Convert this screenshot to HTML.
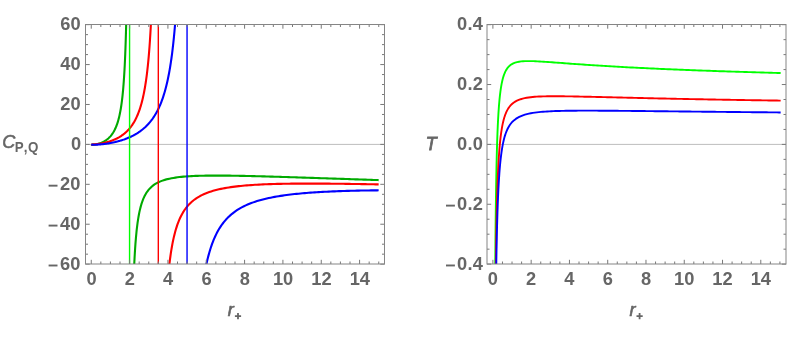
<!DOCTYPE html><html><head><meta charset="utf-8"><title>plot</title><style>html,body{margin:0;padding:0;background:#fff}svg{display:block;will-change:transform}text{font-family:"Liberation Sans",sans-serif;font-weight:bold;fill:#666666}</style></head><body>
<svg width="800" height="338" viewBox="0 0 800 338">
<rect width="800" height="338" fill="#fff"/>
<defs><clipPath id="cl"><rect x="85.5" y="24.5" width="299" height="239.5"/></clipPath><clipPath id="cr"><rect x="487" y="24.5" width="299" height="239.5"/></clipPath></defs>
<path d="M85.5 144.4 H384.5 M487 144.4 H786" stroke="#bdbdbd" stroke-width="1" fill="none"/>
<g clip-path="url(#cl)" fill="none" stroke-linejoin="round">
<path d="M91.25 144.35 L91.49 144.55 L91.73 144.6 L91.97 144.63 L92.21 144.65 L92.45 144.66 L92.69 144.66 L92.93 144.65 L93.17 144.65 L93.4 144.63 L93.64 144.62 L93.88 144.6 L94.12 144.58 L94.36 144.55 L94.6 144.52 L94.84 144.49 L95.08 144.46 L95.32 144.42 L95.56 144.39 L95.8 144.35 L96.04 144.3 L96.28 144.26 L96.52 144.21 L96.76 144.16 L97 144.11 L97.24 144.05 L97.48 144 L97.71 143.94 L97.95 143.88 L98.19 143.81 L98.43 143.75 L98.67 143.68 L98.91 143.61 L99.15 143.54 L99.39 143.46 L99.63 143.38 L99.87 143.3 L100.11 143.22 L100.35 143.13 L100.59 143.05 L100.83 142.96 L101.07 142.86 L101.31 142.77 L101.55 142.67 L101.79 142.57 L102.02 142.46 L102.26 142.35 L102.5 142.24 L102.74 142.13 L102.98 142.02 L103.22 141.9 L103.46 141.77 L103.7 141.65 L103.94 141.52 L104.18 141.38 L104.42 141.25 L104.66 141.11 L104.9 140.96 L105.14 140.82 L105.38 140.66 L105.62 140.51 L105.86 140.35 L106.1 140.18 L106.33 140.02 L106.57 139.84 L106.81 139.66 L107.05 139.48 L107.29 139.29 L107.53 139.1 L107.77 138.9 L108.01 138.7 L108.25 138.49 L108.49 138.28 L108.73 138.06 L108.97 137.83 L109.21 137.6 L109.45 137.36 L109.69 137.11 L109.93 136.86 L110.17 136.6 L110.41 136.33 L110.64 136.05 L110.88 135.77 L111.12 135.48 L111.36 135.17 L111.6 134.86 L111.84 134.54 L112.08 134.21 L112.32 133.87 L112.56 133.52 L112.8 133.16 L113.04 132.79 L113.28 132.4 L113.52 132.01 L113.76 131.59 L114 131.17 L114.24 130.73 L114.48 130.28 L114.72 129.81 L114.95 129.32 L115.19 128.81 L115.43 128.29 L115.67 127.75 L115.91 127.19 L116.15 126.6 L116.39 126 L116.63 125.37 L116.87 124.71 L117.11 124.03 L117.35 123.32 L117.59 122.59 L117.83 121.82 L118.07 121.01 L118.31 120.17 L118.55 119.3 L118.79 118.38 L119.03 117.42 L119.26 116.41 L119.5 115.36 L119.74 114.25 L119.98 113.08 L120.22 111.85 L120.46 110.56 L120.7 109.2 L120.94 107.75 L121.18 106.23 L121.42 104.61 L121.66 102.89 L121.9 101.07 L122.14 99.12 L122.38 97.04 L122.62 94.82 L122.86 92.43 L123.1 89.87 L123.33 87.11 L123.57 84.13 L123.81 80.89 L124.05 77.37 L124.29 73.53 L124.53 69.33 L124.77 64.69 L125.01 59.57 L125.25 53.88 L125.49 47.52 L125.73 40.36 L125.97 32.25 L126.21 22.97 L126.45 12.27 L126.69 -0.21 L126.77 -5.23" stroke="#00aa00" stroke-width="2.1"/>
<path d="M133.2 293.14 L133.26 290.97 L133.33 288.86 L133.39 286.83 L133.48 283.89 L133.57 281.1 L133.67 278.43 L133.76 275.88 L133.85 273.45 L133.95 271.12 L134.04 268.88 L134.14 266.74 L134.23 264.68 L134.35 262.07 L134.48 259.58 L134.6 257.23 L134.73 254.98 L134.85 252.84 L134.98 250.8 L135.13 248.39 L135.29 246.1 L135.44 243.93 L135.6 241.88 L135.79 239.56 L135.97 237.37 L136.16 235.3 L136.38 233.04 L136.59 230.92 L136.81 228.93 L137.06 226.79 L137.31 224.8 L137.59 222.7 L137.9 220.54 L138.21 218.54 L138.56 216.5 L138.93 214.45 L139.33 212.41 L139.77 210.39 L140.24 208.42 L140.77 206.39 L141.33 204.44 L141.95 202.49 L142.64 200.56 L143.38 198.68 L144.22 196.81 L145.16 194.97 L146.18 193.2 L147.31 191.52 L148.55 189.89 L149.89 188.38 L151.35 186.96 L152.91 185.66 L154.56 184.47 L156.27 183.41 L158.05 182.46 L159.88 181.62 L161.75 180.87 L163.65 180.21 L165.58 179.63 L167.54 179.11 L169.51 178.66 L171.47 178.26 L173.46 177.91 L175.45 177.59 L177.45 177.32 L179.44 177.07 L181.43 176.86 L183.42 176.67 L185.45 176.5 L187.47 176.35 L189.5 176.22 L191.52 176.11 L193.54 176.01 L195.57 175.92 L197.59 175.85 L199.62 175.78 L201.64 175.73 L203.66 175.69 L205.69 175.65 L207.71 175.62 L209.73 175.6 L211.76 175.59 L213.78 175.58 L215.81 175.58 L217.83 175.58 L219.85 175.58 L221.88 175.6 L223.9 175.61 L225.93 175.63 L227.95 175.65 L229.97 175.67 L232 175.7 L234.02 175.73 L236.04 175.76 L238.07 175.8 L240.09 175.84 L242.12 175.88 L244.14 175.92 L246.16 175.96 L248.19 176.01 L250.21 176.05 L252.24 176.1 L254.26 176.15 L256.28 176.2 L258.31 176.25 L260.33 176.3 L262.36 176.36 L264.38 176.41 L266.4 176.47 L268.43 176.53 L270.45 176.58 L272.47 176.64 L274.5 176.7 L276.52 176.76 L278.55 176.82 L280.57 176.88 L282.59 176.94 L284.62 177 L286.64 177.07 L288.67 177.13 L290.69 177.19 L292.71 177.26 L294.74 177.32 L296.76 177.39 L298.78 177.45 L300.81 177.52 L302.83 177.58 L304.86 177.65 L306.88 177.71 L308.9 177.78 L310.93 177.84 L312.95 177.91 L314.98 177.98 L317 178.04 L319.02 178.11 L321.05 178.18 L323.07 178.24 L325.1 178.31 L327.12 178.38 L329.14 178.45 L331.17 178.51 L333.19 178.58 L335.21 178.65 L337.24 178.72 L339.26 178.78 L341.29 178.85 L343.31 178.92 L345.33 178.99 L347.36 179.06 L349.38 179.12 L351.41 179.19 L353.43 179.26 L355.45 179.33 L357.48 179.39 L359.5 179.46 L361.52 179.53 L363.55 179.6 L365.57 179.67 L367.6 179.73 L369.62 179.8 L371.64 179.87 L373.67 179.94 L375.69 180 L377.72 180.07 L378.65 180.1" stroke="#00aa00" stroke-width="2.1"/>
<path d="M91.25 144.35 L91.67 144.43 L92.09 144.45 L92.51 144.45 L92.93 144.44 L93.35 144.42 L93.76 144.4 L94.18 144.38 L94.6 144.35 L95.02 144.32 L95.44 144.28 L95.86 144.24 L96.28 144.2 L96.7 144.16 L97.12 144.11 L97.54 144.06 L97.96 144.01 L98.37 143.95 L98.79 143.89 L99.21 143.83 L99.63 143.77 L100.05 143.7 L100.47 143.63 L100.89 143.56 L101.31 143.48 L101.73 143.41 L102.15 143.33 L102.57 143.24 L102.99 143.16 L103.4 143.07 L103.82 142.98 L104.24 142.88 L104.66 142.79 L105.08 142.69 L105.5 142.59 L105.92 142.48 L106.34 142.37 L106.76 142.26 L107.18 142.14 L107.6 142.03 L108.01 141.91 L108.43 141.78 L108.85 141.65 L109.27 141.52 L109.69 141.39 L110.11 141.25 L110.53 141.1 L110.95 140.96 L111.37 140.81 L111.79 140.66 L112.21 140.5 L112.62 140.34 L113.04 140.17 L113.46 140 L113.88 139.82 L114.3 139.64 L114.72 139.46 L115.14 139.27 L115.56 139.08 L115.98 138.88 L116.4 138.68 L116.82 138.47 L117.23 138.25 L117.65 138.03 L118.07 137.81 L118.49 137.57 L118.91 137.34 L119.33 137.09 L119.75 136.84 L120.17 136.58 L120.59 136.32 L121.01 136.05 L121.43 135.77 L121.85 135.48 L122.26 135.19 L122.68 134.88 L123.1 134.57 L123.52 134.25 L123.94 133.92 L124.36 133.59 L124.78 133.24 L125.2 132.88 L125.62 132.51 L126.04 132.13 L126.46 131.74 L126.87 131.34 L127.29 130.93 L127.71 130.5 L128.13 130.06 L128.55 129.61 L128.97 129.14 L129.39 128.65 L129.81 128.16 L130.23 127.64 L130.65 127.11 L131.07 126.56 L131.48 125.99 L131.9 125.41 L132.32 124.8 L132.74 124.17 L133.16 123.52 L133.58 122.84 L134 122.14 L134.42 121.42 L134.84 120.66 L135.26 119.88 L135.68 119.07 L136.09 118.22 L136.51 117.34 L136.93 116.43 L137.35 115.48 L137.77 114.48 L138.19 113.44 L138.61 112.36 L139.03 111.23 L139.45 110.05 L139.87 108.81 L140.29 107.51 L140.7 106.15 L141.12 104.72 L141.54 103.21 L141.96 101.63 L142.38 99.96 L142.8 98.2 L143.22 96.34 L143.64 94.37 L144.06 92.28 L144.48 90.06 L144.9 87.71 L145.32 85.2 L145.73 82.51 L146.15 79.65 L146.57 76.57 L146.99 73.26 L147.41 69.7 L147.83 65.85 L148.25 61.67 L148.67 57.13 L149.09 52.17 L149.51 46.74 L149.93 40.76 L150.34 34.15 L150.76 26.79 L151.18 18.57 L151.6 9.32 L152.02 -1.17 L152.17 -5.29" stroke="#ff0000" stroke-width="2.1"/>
<path d="M166.76 293.79 L166.9 291.79 L167.06 289.47 L167.23 287.24 L167.39 285.09 L167.56 283.02 L167.72 281.02 L167.91 278.77 L168.11 276.62 L168.3 274.54 L168.49 272.55 L168.71 270.36 L168.93 268.27 L169.15 266.26 L169.4 264.09 L169.65 262.02 L169.92 259.83 L170.2 257.74 L170.48 255.74 L170.78 253.65 L171.08 251.65 L171.41 249.58 L171.77 247.46 L172.13 245.45 L172.51 243.39 L172.93 241.31 L173.34 239.35 L173.78 237.38 L174.25 235.4 L174.75 233.43 L175.27 231.48 L175.82 229.55 L176.43 227.57 L177.06 225.64 L177.75 223.69 L178.46 221.8 L179.23 219.92 L180.06 218.05 L180.94 216.21 L181.88 214.42 L182.87 212.67 L183.94 210.94 L185.07 209.27 L186.29 207.64 L187.55 206.08 L188.9 204.58 L190.31 203.15 L191.79 201.78 L193.34 200.49 L194.93 199.27 L196.59 198.13 L198.29 197.06 L200.06 196.05 L201.85 195.12 L203.67 194.26 L205.51 193.46 L207.38 192.72 L209.28 192.03 L211.19 191.4 L213.11 190.82 L215.04 190.28 L217 189.77 L218.95 189.31 L220.91 188.88 L222.89 188.47 L224.87 188.1 L226.86 187.76 L228.84 187.43 L230.82 187.14 L232.81 186.86 L234.82 186.6 L236.83 186.36 L238.84 186.14 L240.85 185.93 L242.86 185.73 L244.87 185.55 L246.88 185.38 L248.89 185.23 L250.9 185.08 L252.91 184.95 L254.92 184.82 L256.94 184.7 L258.95 184.6 L260.96 184.5 L262.97 184.4 L264.98 184.32 L266.99 184.24 L269 184.16 L271.01 184.09 L273.02 184.03 L275.03 183.97 L277.04 183.92 L279.05 183.87 L281.06 183.83 L283.07 183.79 L285.08 183.76 L287.1 183.72 L289.11 183.7 L291.12 183.67 L293.13 183.65 L295.14 183.63 L297.15 183.62 L299.16 183.6 L301.17 183.59 L303.18 183.58 L305.19 183.58 L307.2 183.58 L309.21 183.58 L311.22 183.58 L313.23 183.58 L315.24 183.58 L317.26 183.59 L319.27 183.6 L321.28 183.61 L323.29 183.62 L325.3 183.64 L327.31 183.65 L329.32 183.67 L331.33 183.69 L333.34 183.7 L335.35 183.73 L337.36 183.75 L339.37 183.77 L341.38 183.79 L343.39 183.82 L345.4 183.84 L347.42 183.87 L349.43 183.9 L351.44 183.93 L353.45 183.96 L355.46 183.99 L357.47 184.02 L359.48 184.05 L361.49 184.08 L363.5 184.12 L365.51 184.15 L367.52 184.19 L369.53 184.22 L371.54 184.26 L373.55 184.29 L375.57 184.33 L377.58 184.37 L378.65 184.39" stroke="#ff0000" stroke-width="2.1"/>
<path d="M91.25 144.35 L91.85 144.61 L92.45 144.67 L93.05 144.7 L93.65 144.72 L94.24 144.72 L94.84 144.71 L95.44 144.7 L96.04 144.68 L96.64 144.66 L97.24 144.63 L97.84 144.59 L98.44 144.56 L99.03 144.51 L99.63 144.47 L100.23 144.41 L100.83 144.36 L101.43 144.3 L102.03 144.24 L102.63 144.18 L103.23 144.11 L103.82 144.04 L104.42 143.96 L105.02 143.88 L105.62 143.8 L106.22 143.71 L106.82 143.63 L107.42 143.53 L108.02 143.44 L108.61 143.34 L109.21 143.24 L109.81 143.13 L110.41 143.02 L111.01 142.91 L111.61 142.79 L112.21 142.67 L112.81 142.55 L113.4 142.42 L114 142.29 L114.6 142.16 L115.2 142.02 L115.8 141.87 L116.4 141.73 L117 141.58 L117.6 141.42 L118.2 141.26 L118.79 141.1 L119.39 140.93 L119.99 140.76 L120.59 140.58 L121.19 140.4 L121.79 140.21 L122.39 140.02 L122.99 139.83 L123.58 139.62 L124.18 139.42 L124.78 139.2 L125.38 138.99 L125.98 138.76 L126.58 138.53 L127.18 138.3 L127.78 138.05 L128.37 137.8 L128.97 137.55 L129.57 137.29 L130.17 137.02 L130.77 136.74 L131.37 136.46 L131.97 136.17 L132.57 135.87 L133.16 135.56 L133.76 135.25 L134.36 134.92 L134.96 134.59 L135.56 134.25 L136.16 133.9 L136.76 133.54 L137.36 133.16 L137.95 132.78 L138.55 132.39 L139.15 131.98 L139.75 131.57 L140.35 131.14 L140.95 130.7 L141.55 130.25 L142.15 129.78 L142.75 129.3 L143.34 128.8 L143.94 128.29 L144.54 127.76 L145.14 127.22 L145.74 126.65 L146.34 126.07 L146.94 125.47 L147.54 124.86 L148.13 124.22 L148.73 123.56 L149.33 122.87 L149.93 122.17 L150.53 121.43 L151.13 120.68 L151.73 119.89 L152.33 119.08 L152.92 118.23 L153.52 117.35 L154.12 116.44 L154.72 115.5 L155.32 114.51 L155.92 113.49 L156.52 112.43 L157.12 111.32 L157.71 110.16 L158.31 108.95 L158.91 107.69 L159.51 106.37 L160.11 105 L160.71 103.55 L161.31 102.04 L161.91 100.45 L162.5 98.79 L163.1 97.04 L163.7 95.19 L164.3 93.25 L164.9 91.2 L165.5 89.03 L166.1 86.74 L166.7 84.31 L167.3 81.73 L167.89 78.99 L168.49 76.06 L169.09 72.94 L169.69 69.6 L170.29 66.02 L170.89 62.16 L171.49 58.01 L172.09 53.53 L172.68 48.66 L173.28 43.37 L173.88 37.6 L174.48 31.27 L175.08 24.3 L175.68 16.6 L176.28 8.04 L176.88 -1.54 L177.09 -5.27" stroke="#0000ff" stroke-width="2.1"/>
<path d="M201.58 294.15 L201.85 292.01 L202.11 289.94 L202.37 287.95 L202.66 285.85 L202.95 283.82 L203.26 281.72 L203.57 279.69 L203.91 277.59 L204.24 275.57 L204.6 273.49 L204.96 271.5 L205.34 269.47 L205.75 267.39 L206.16 265.41 L206.59 263.4 L207.04 261.38 L207.52 259.35 L208.03 257.31 L208.53 255.38 L209.06 253.44 L209.63 251.44 L210.23 249.46 L210.85 247.51 L211.5 245.59 L212.17 243.7 L212.89 241.8 L213.63 239.93 L214.42 238.07 L215.26 236.2 L216.15 234.35 L217.06 232.56 L218.01 230.8 L219.02 229.07 L220.1 227.33 L221.22 225.64 L222.4 223.99 L223.62 222.39 L224.89 220.85 L226.23 219.33 L227.62 217.86 L229.05 216.45 L230.54 215.1 L232.07 213.8 L233.65 212.56 L235.28 211.37 L236.96 210.23 L238.66 209.15 L240.38 208.14 L242.16 207.17 L243.95 206.25 L245.77 205.38 L247.62 204.56 L249.48 203.79 L251.35 203.06 L253.24 202.37 L255.16 201.72 L257.08 201.1 L258.99 200.53 L260.93 199.98 L262.87 199.46 L264.81 198.98 L266.78 198.51 L268.74 198.07 L270.7 197.66 L272.67 197.27 L274.66 196.9 L276.64 196.54 L278.63 196.21 L280.62 195.89 L282.61 195.59 L284.6 195.31 L286.58 195.04 L288.57 194.78 L290.56 194.53 L292.55 194.3 L294.54 194.08 L296.55 193.87 L298.56 193.67 L300.57 193.48 L302.58 193.29 L304.59 193.12 L306.61 192.96 L308.62 192.8 L310.63 192.65 L312.64 192.51 L314.65 192.37 L316.67 192.24 L318.68 192.12 L320.69 192 L322.7 191.89 L324.71 191.78 L326.73 191.68 L328.74 191.59 L330.75 191.5 L332.76 191.41 L334.77 191.33 L336.78 191.25 L338.8 191.17 L340.81 191.1 L342.82 191.04 L344.83 190.97 L346.84 190.91 L348.86 190.85 L350.87 190.8 L352.88 190.75 L354.89 190.7 L356.9 190.65 L358.91 190.61 L360.93 190.57 L362.94 190.53 L364.95 190.5 L366.96 190.46 L368.97 190.43 L370.99 190.4 L373 190.37 L375.01 190.35 L377.02 190.33 L378.65 190.31" stroke="#0000ff" stroke-width="2.1"/>
<path d="M129.57 24.5 V264" stroke="#00ff00" stroke-width="1.4"/>
<path d="M158.31 24.5 V264" stroke="#ff0000" stroke-width="1.4"/>
<path d="M187.05 24.5 V264" stroke="#0000ff" stroke-width="1.4"/>
</g>
<g clip-path="url(#cr)" fill="none" stroke-linejoin="round">
<path d="M495.07 293.25 L495.08 290.92 L495.09 288.62 L495.11 286.37 L495.12 284.15 L495.14 281.96 L495.15 279.82 L495.16 277.7 L495.18 275.62 L495.19 273.58 L495.21 271.56 L495.23 268.93 L495.25 266.34 L495.26 263.81 L495.28 261.34 L495.3 258.91 L495.32 256.53 L495.34 254.2 L495.36 251.91 L495.38 249.67 L495.4 247.47 L495.42 245.31 L495.43 243.19 L495.45 241.12 L495.47 239.08 L495.49 237.08 L495.51 234.63 L495.54 232.23 L495.56 229.89 L495.59 227.61 L495.61 225.37 L495.63 223.18 L495.66 221.04 L495.68 218.94 L495.7 216.89 L495.73 214.88 L495.76 212.52 L495.78 210.22 L495.81 207.98 L495.84 205.79 L495.87 203.65 L495.9 201.57 L495.93 199.53 L495.96 197.21 L495.99 194.96 L496.03 192.76 L496.06 190.62 L496.09 188.54 L496.12 186.51 L496.16 184.25 L496.2 182.05 L496.24 179.92 L496.28 177.84 L496.31 175.82 L496.36 173.62 L496.4 171.48 L496.44 169.4 L496.48 167.39 L496.53 165.21 L496.58 163.11 L496.63 161.07 L496.68 158.9 L496.73 156.81 L496.78 154.78 L496.84 152.64 L496.89 150.58 L496.96 148.42 L497.02 146.35 L497.08 144.34 L497.15 142.27 L497.21 140.27 L497.28 138.2 L497.36 136.09 L497.43 134.07 L497.51 132.01 L497.6 129.92 L497.68 127.92 L497.77 125.9 L497.87 123.87 L497.97 121.84 L498.07 119.82 L498.18 117.8 L498.3 115.73 L498.42 113.68 L498.55 111.67 L498.69 109.63 L498.83 107.58 L498.99 105.53 L499.15 103.49 L499.33 101.48 L499.52 99.45 L499.72 97.42 L499.94 95.4 L500.18 93.38 L500.43 91.38 L500.71 89.37 L501.01 87.39 L501.35 85.4 L501.72 83.43 L502.13 81.46 L502.59 79.5 L503.11 77.57 L503.71 75.65 L504.39 73.76 L505.19 71.91 L506.11 70.13 L507.19 68.44 L508.46 66.88 L509.9 65.5 L511.52 64.32 L513.29 63.37 L515.15 62.64 L517.07 62.09 L519.04 61.7 L521.02 61.42 L523.02 61.24 L525.09 61.13 L527.16 61.08 L529.23 61.08 L531.3 61.11 L533.37 61.17 L535.44 61.25 L537.51 61.35 L539.58 61.46 L541.65 61.59 L543.72 61.72 L545.79 61.86 L547.86 62 L549.93 62.15 L552 62.3 L554.07 62.45 L556.14 62.61 L558.21 62.76 L560.28 62.92 L562.35 63.07 L564.42 63.23 L566.49 63.38 L568.56 63.53 L570.63 63.68 L572.7 63.84 L574.77 63.98 L576.84 64.13 L578.91 64.28 L580.98 64.42 L583.05 64.57 L585.12 64.71 L587.19 64.85 L589.26 64.99 L591.33 65.13 L593.4 65.26 L595.47 65.4 L597.54 65.53 L599.61 65.66 L601.68 65.79 L603.75 65.92 L605.82 66.04 L607.89 66.17 L609.96 66.29 L612.03 66.41 L614.1 66.53 L616.17 66.65 L618.24 66.77 L620.31 66.88 L622.38 67 L624.45 67.11 L626.52 67.22 L628.59 67.33 L630.66 67.44 L632.73 67.55 L634.8 67.66 L636.87 67.76 L638.94 67.86 L641.01 67.97 L643.08 68.07 L645.15 68.17 L647.22 68.27 L649.29 68.37 L651.36 68.47 L653.43 68.56 L655.5 68.66 L657.57 68.75 L659.64 68.84 L661.71 68.94 L663.78 69.03 L665.85 69.12 L667.92 69.21 L669.99 69.3 L672.06 69.38 L674.13 69.47 L676.2 69.56 L678.27 69.64 L680.34 69.72 L682.41 69.81 L684.48 69.89 L686.55 69.97 L688.62 70.05 L690.69 70.13 L692.76 70.21 L694.83 70.29 L696.9 70.37 L698.97 70.45 L701.04 70.52 L703.11 70.6 L705.18 70.67 L707.25 70.75 L709.32 70.82 L711.39 70.89 L713.46 70.97 L715.53 71.04 L717.6 71.11 L719.67 71.18 L721.74 71.25 L723.81 71.32 L725.88 71.39 L727.95 71.46 L730.02 71.52 L732.09 71.59 L734.16 71.66 L736.23 71.72 L738.3 71.79 L740.37 71.85 L742.44 71.92 L744.51 71.98 L746.58 72.05 L748.65 72.11 L750.72 72.17 L752.79 72.23 L754.86 72.29 L756.93 72.35 L759 72.42 L761.07 72.48 L763.14 72.54 L765.21 72.59 L767.28 72.65 L769.35 72.71 L771.42 72.77 L773.49 72.83 L775.56 72.88 L777.63 72.94 L779.7 73 L780.65 73.02" stroke="#00ff00" stroke-width="1.9"/>
<path d="M495.55 293.56 L495.57 291.54 L495.59 289.07 L495.61 286.65 L495.64 284.29 L495.66 281.97 L495.68 279.7 L495.71 277.48 L495.73 275.31 L495.76 273.18 L495.78 271.09 L495.8 269.05 L495.83 267.04 L495.85 264.69 L495.88 262.39 L495.91 260.14 L495.94 257.94 L495.97 255.8 L496 253.7 L496.03 251.65 L496.05 249.64 L496.09 247.36 L496.12 245.13 L496.15 242.96 L496.19 240.84 L496.22 238.77 L496.25 236.75 L496.29 234.5 L496.33 232.31 L496.37 230.18 L496.4 228.1 L496.44 226.08 L496.48 223.86 L496.53 221.71 L496.57 219.62 L496.61 217.58 L496.66 215.39 L496.71 213.26 L496.75 211.19 L496.8 209.18 L496.85 207.04 L496.9 204.97 L496.96 202.95 L497.01 200.83 L497.07 198.77 L497.13 196.62 L497.19 194.54 L497.25 192.52 L497.32 190.43 L497.39 188.41 L497.46 186.33 L497.53 184.32 L497.6 182.26 L497.68 180.15 L497.76 178.12 L497.85 176.06 L497.94 173.97 L498.03 171.97 L498.12 169.95 L498.22 167.93 L498.33 165.9 L498.44 163.87 L498.55 161.85 L498.67 159.85 L498.79 157.79 L498.93 155.77 L499.07 153.71 L499.22 151.7 L499.37 149.68 L499.54 147.66 L499.71 145.65 L499.9 143.65 L500.09 141.64 L500.31 139.62 L500.53 137.62 L500.78 135.6 L501.05 133.59 L501.33 131.59 L501.64 129.61 L501.97 127.62 L502.34 125.65 L502.74 123.68 L503.18 121.71 L503.67 119.76 L504.22 117.83 L504.83 115.92 L505.51 114.04 L506.29 112.19 L507.17 110.39 L508.16 108.65 L509.29 106.99 L510.57 105.44 L511.98 104.03 L513.53 102.76 L515.2 101.65 L516.96 100.69 L518.79 99.89 L520.68 99.22 L522.68 98.64 L524.66 98.17 L526.65 97.79 L528.63 97.48 L530.61 97.22 L532.68 97 L534.75 96.82 L536.82 96.67 L538.89 96.56 L540.96 96.46 L543.03 96.39 L545.1 96.33 L547.17 96.29 L549.24 96.27 L551.31 96.25 L553.38 96.24 L555.45 96.24 L557.52 96.25 L559.59 96.26 L561.66 96.28 L563.73 96.3 L565.8 96.33 L567.87 96.36 L569.94 96.39 L572.01 96.42 L574.08 96.46 L576.15 96.5 L578.22 96.54 L580.29 96.59 L582.36 96.63 L584.43 96.68 L586.5 96.72 L588.57 96.77 L590.64 96.82 L592.71 96.87 L594.78 96.92 L596.85 96.97 L598.92 97.02 L600.99 97.07 L603.06 97.12 L605.13 97.17 L607.2 97.22 L609.27 97.27 L611.34 97.32 L613.41 97.37 L615.48 97.42 L617.55 97.47 L619.62 97.52 L621.69 97.57 L623.76 97.62 L625.83 97.67 L627.9 97.72 L629.97 97.77 L632.04 97.82 L634.11 97.87 L636.18 97.92 L638.25 97.96 L640.32 98.01 L642.39 98.06 L644.46 98.11 L646.53 98.16 L648.6 98.2 L650.67 98.25 L652.74 98.3 L654.81 98.34 L656.88 98.39 L658.95 98.43 L661.02 98.48 L663.09 98.52 L665.16 98.57 L667.23 98.61 L669.3 98.66 L671.37 98.7 L673.44 98.74 L675.51 98.79 L677.58 98.83 L679.65 98.87 L681.72 98.91 L683.79 98.95 L685.86 99 L687.93 99.04 L690 99.08 L692.07 99.12 L694.14 99.16 L696.21 99.2 L698.28 99.24 L700.35 99.28 L702.42 99.32 L704.49 99.36 L706.56 99.4 L708.63 99.43 L710.7 99.47 L712.77 99.51 L714.84 99.55 L716.91 99.59 L718.98 99.62 L721.05 99.66 L723.12 99.7 L725.19 99.73 L727.26 99.77 L729.33 99.81 L731.4 99.84 L733.47 99.88 L735.54 99.91 L737.61 99.95 L739.68 99.98 L741.75 100.02 L743.82 100.05 L745.89 100.08 L747.96 100.12 L750.03 100.15 L752.1 100.19 L754.17 100.22 L756.24 100.25 L758.31 100.28 L760.38 100.32 L762.45 100.35 L764.52 100.38 L766.59 100.41 L768.66 100.44 L770.73 100.48 L772.8 100.51 L774.87 100.54 L776.94 100.57 L779.01 100.6 L780.65 100.62" stroke="#ff0000" stroke-width="1.9"/>
<path d="M495.88 293.48 L495.91 291.11 L495.94 288.79 L495.97 286.52 L496 284.3 L496.03 282.13 L496.05 280.01 L496.08 277.94 L496.11 275.9 L496.14 273.59 L496.18 271.33 L496.21 269.12 L496.24 266.97 L496.28 264.86 L496.31 262.81 L496.34 260.8 L496.38 258.56 L496.42 256.38 L496.46 254.26 L496.49 252.19 L496.53 250.16 L496.57 247.95 L496.62 245.8 L496.66 243.7 L496.7 241.66 L496.75 239.45 L496.8 237.31 L496.84 235.23 L496.89 233.21 L496.94 231.05 L496.99 228.95 L497.05 226.92 L497.1 224.76 L497.16 222.68 L497.22 220.66 L497.28 218.54 L497.34 216.49 L497.41 214.35 L497.47 212.29 L497.54 210.16 L497.61 208.1 L497.69 205.98 L497.76 203.94 L497.84 201.85 L497.93 199.84 L498.01 197.79 L498.1 195.71 L498.19 193.61 L498.29 191.6 L498.39 189.57 L498.49 187.53 L498.6 185.49 L498.71 183.46 L498.83 181.44 L498.96 179.44 L499.09 177.38 L499.23 175.35 L499.37 173.3 L499.52 171.29 L499.68 169.26 L499.85 167.24 L500.03 165.22 L500.22 163.21 L500.43 161.19 L500.64 159.16 L500.87 157.14 L501.12 155.14 L501.39 153.13 L501.67 151.13 L501.98 149.13 L502.31 147.14 L502.67 145.16 L503.06 143.18 L503.48 141.22 L503.95 139.26 L504.47 137.32 L505.04 135.39 L505.67 133.49 L506.38 131.61 L507.17 129.76 L508.05 127.96 L509.04 126.21 L510.14 124.54 L511.37 122.96 L512.73 121.48 L514.2 120.13 L515.79 118.91 L517.48 117.83 L519.24 116.87 L521.06 116.04 L522.94 115.32 L524.92 114.68 L526.91 114.14 L528.89 113.67 L530.87 113.27 L532.86 112.92 L534.84 112.63 L536.82 112.37 L538.89 112.13 L540.96 111.92 L543.03 111.75 L545.1 111.59 L547.17 111.45 L549.24 111.33 L551.31 111.23 L553.38 111.14 L555.45 111.06 L557.52 110.99 L559.59 110.93 L561.66 110.88 L563.73 110.83 L565.8 110.79 L567.87 110.76 L569.94 110.73 L572.01 110.71 L574.08 110.69 L576.15 110.68 L578.22 110.67 L580.29 110.66 L582.36 110.65 L584.43 110.65 L586.5 110.65 L588.57 110.65 L590.64 110.65 L592.71 110.66 L594.78 110.66 L596.85 110.67 L598.92 110.68 L600.99 110.69 L603.06 110.7 L605.13 110.72 L607.2 110.73 L609.27 110.75 L611.34 110.76 L613.41 110.78 L615.48 110.79 L617.55 110.81 L619.62 110.83 L621.69 110.85 L623.76 110.87 L625.83 110.89 L627.9 110.9 L629.97 110.92 L632.04 110.95 L634.11 110.97 L636.18 110.99 L638.25 111.01 L640.32 111.03 L642.39 111.05 L644.46 111.07 L646.53 111.09 L648.6 111.11 L650.67 111.14 L652.74 111.16 L654.81 111.18 L656.88 111.2 L658.95 111.22 L661.02 111.25 L663.09 111.27 L665.16 111.29 L667.23 111.31 L669.3 111.34 L671.37 111.36 L673.44 111.38 L675.51 111.4 L677.58 111.42 L679.65 111.45 L681.72 111.47 L683.79 111.49 L685.86 111.51 L687.93 111.54 L690 111.56 L692.07 111.58 L694.14 111.6 L696.21 111.62 L698.28 111.64 L700.35 111.67 L702.42 111.69 L704.49 111.71 L706.56 111.73 L708.63 111.75 L710.7 111.77 L712.77 111.8 L714.84 111.82 L716.91 111.84 L718.98 111.86 L721.05 111.88 L723.12 111.9 L725.19 111.92 L727.26 111.94 L729.33 111.96 L731.4 111.98 L733.47 112 L735.54 112.02 L737.61 112.04 L739.68 112.07 L741.75 112.09 L743.82 112.11 L745.89 112.13 L747.96 112.15 L750.03 112.17 L752.1 112.18 L754.17 112.2 L756.24 112.22 L758.31 112.24 L760.38 112.26 L762.45 112.28 L764.52 112.3 L766.59 112.32 L768.66 112.34 L770.73 112.36 L772.8 112.38 L774.87 112.4 L776.94 112.41 L779.01 112.43 L780.65 112.45" stroke="#0000ff" stroke-width="1.9"/>
</g>
<path d="M91.25 264 v-4.2 M91.25 24.5 v4.2 M100.83 264 v-2.5 M100.83 24.5 v2.5 M110.42 264 v-2.5 M110.42 24.5 v2.5 M120 264 v-2.5 M120 24.5 v2.5 M129.58 264 v-4.2 M129.58 24.5 v4.2 M139.17 264 v-2.5 M139.17 24.5 v2.5 M148.75 264 v-2.5 M148.75 24.5 v2.5 M158.33 264 v-2.5 M158.33 24.5 v2.5 M167.92 264 v-4.2 M167.92 24.5 v4.2 M177.5 264 v-2.5 M177.5 24.5 v2.5 M187.09 264 v-2.5 M187.09 24.5 v2.5 M196.67 264 v-2.5 M196.67 24.5 v2.5 M206.25 264 v-4.2 M206.25 24.5 v4.2 M215.84 264 v-2.5 M215.84 24.5 v2.5 M225.42 264 v-2.5 M225.42 24.5 v2.5 M235 264 v-2.5 M235 24.5 v2.5 M244.59 264 v-4.2 M244.59 24.5 v4.2 M254.17 264 v-2.5 M254.17 24.5 v2.5 M263.75 264 v-2.5 M263.75 24.5 v2.5 M273.34 264 v-2.5 M273.34 24.5 v2.5 M282.92 264 v-4.2 M282.92 24.5 v4.2 M292.5 264 v-2.5 M292.5 24.5 v2.5 M302.09 264 v-2.5 M302.09 24.5 v2.5 M311.67 264 v-2.5 M311.67 24.5 v2.5 M321.25 264 v-4.2 M321.25 24.5 v4.2 M330.84 264 v-2.5 M330.84 24.5 v2.5 M340.42 264 v-2.5 M340.42 24.5 v2.5 M350 264 v-2.5 M350 24.5 v2.5 M359.59 264 v-4.2 M359.59 24.5 v4.2 M369.17 264 v-2.5 M369.17 24.5 v2.5 M378.75 264 v-2.5 M378.75 24.5 v2.5 M85.5 264.15 h4.2 M384.5 264.15 h-4.2 M85.5 254.17 h2.5 M384.5 254.17 h-2.5 M85.5 244.19 h2.5 M384.5 244.19 h-2.5 M85.5 234.21 h2.5 M384.5 234.21 h-2.5 M85.5 224.23 h4.2 M384.5 224.23 h-4.2 M85.5 214.25 h2.5 M384.5 214.25 h-2.5 M85.5 204.27 h2.5 M384.5 204.27 h-2.5 M85.5 194.3 h2.5 M384.5 194.3 h-2.5 M85.5 184.32 h4.2 M384.5 184.32 h-4.2 M85.5 174.34 h2.5 M384.5 174.34 h-2.5 M85.5 164.36 h2.5 M384.5 164.36 h-2.5 M85.5 154.38 h2.5 M384.5 154.38 h-2.5 M85.5 144.4 h4.2 M384.5 144.4 h-4.2 M85.5 134.42 h2.5 M384.5 134.42 h-2.5 M85.5 124.44 h2.5 M384.5 124.44 h-2.5 M85.5 114.46 h2.5 M384.5 114.46 h-2.5 M85.5 104.48 h4.2 M384.5 104.48 h-4.2 M85.5 94.5 h2.5 M384.5 94.5 h-2.5 M85.5 84.53 h2.5 M384.5 84.53 h-2.5 M85.5 74.55 h2.5 M384.5 74.55 h-2.5 M85.5 64.57 h4.2 M384.5 64.57 h-4.2 M85.5 54.59 h2.5 M384.5 54.59 h-2.5 M85.5 44.61 h2.5 M384.5 44.61 h-2.5 M85.5 34.63 h2.5 M384.5 34.63 h-2.5 M85.5 24.65 h4.2 M384.5 24.65 h-4.2" stroke="#787878" stroke-width="1" fill="none"/>
<path d="M492.9 264 v-4.2 M492.9 24.5 v4.2 M502.47 264 v-2.5 M502.47 24.5 v2.5 M512.03 264 v-2.5 M512.03 24.5 v2.5 M521.6 264 v-2.5 M521.6 24.5 v2.5 M531.17 264 v-4.2 M531.17 24.5 v4.2 M540.74 264 v-2.5 M540.74 24.5 v2.5 M550.3 264 v-2.5 M550.3 24.5 v2.5 M559.87 264 v-2.5 M559.87 24.5 v2.5 M569.44 264 v-4.2 M569.44 24.5 v4.2 M579.01 264 v-2.5 M579.01 24.5 v2.5 M588.58 264 v-2.5 M588.58 24.5 v2.5 M598.14 264 v-2.5 M598.14 24.5 v2.5 M607.71 264 v-4.2 M607.71 24.5 v4.2 M617.28 264 v-2.5 M617.28 24.5 v2.5 M626.85 264 v-2.5 M626.85 24.5 v2.5 M636.41 264 v-2.5 M636.41 24.5 v2.5 M645.98 264 v-4.2 M645.98 24.5 v4.2 M655.55 264 v-2.5 M655.55 24.5 v2.5 M665.12 264 v-2.5 M665.12 24.5 v2.5 M674.68 264 v-2.5 M674.68 24.5 v2.5 M684.25 264 v-4.2 M684.25 24.5 v4.2 M693.82 264 v-2.5 M693.82 24.5 v2.5 M703.38 264 v-2.5 M703.38 24.5 v2.5 M712.95 264 v-2.5 M712.95 24.5 v2.5 M722.52 264 v-4.2 M722.52 24.5 v4.2 M732.09 264 v-2.5 M732.09 24.5 v2.5 M741.65 264 v-2.5 M741.65 24.5 v2.5 M751.22 264 v-2.5 M751.22 24.5 v2.5 M760.79 264 v-4.2 M760.79 24.5 v4.2 M770.36 264 v-2.5 M770.36 24.5 v2.5 M779.92 264 v-2.5 M779.92 24.5 v2.5 M487 264.12 h4.2 M786 264.12 h-4.2 M487 249.16 h2.5 M786 249.16 h-2.5 M487 234.19 h2.5 M786 234.19 h-2.5 M487 219.23 h2.5 M786 219.23 h-2.5 M487 204.26 h4.2 M786 204.26 h-4.2 M487 189.3 h2.5 M786 189.3 h-2.5 M487 174.33 h2.5 M786 174.33 h-2.5 M487 159.37 h2.5 M786 159.37 h-2.5 M487 144.4 h4.2 M786 144.4 h-4.2 M487 129.44 h2.5 M786 129.44 h-2.5 M487 114.47 h2.5 M786 114.47 h-2.5 M487 99.5 h2.5 M786 99.5 h-2.5 M487 84.54 h4.2 M786 84.54 h-4.2 M487 69.58 h2.5 M786 69.58 h-2.5 M487 54.61 h2.5 M786 54.61 h-2.5 M487 39.65 h2.5 M786 39.65 h-2.5 M487 24.68 h4.2 M786 24.68 h-4.2" stroke="#787878" stroke-width="1" fill="none"/>
<rect x="85.5" y="24.5" width="299" height="239.5" fill="none" stroke="#858585" stroke-width="1"/>
<rect x="487" y="24.5" width="299" height="239.5" fill="none" stroke="#858585" stroke-width="1"/>
<text transform="translate(80.3,269.75) scale(1.015,1.055)" font-size="18" text-anchor="end">60</text>
<rect x="48.6" y="264.55" width="8.9" height="1.9" fill="#666666"/>
<text transform="translate(80.3,229.83) scale(1.015,1.055)" font-size="18" text-anchor="end">40</text>
<rect x="48.6" y="224.63" width="8.9" height="1.9" fill="#666666"/>
<text transform="translate(80.3,189.92) scale(1.015,1.055)" font-size="18" text-anchor="end">20</text>
<rect x="48.6" y="184.72" width="8.9" height="1.9" fill="#666666"/>
<text transform="translate(81.2,150) scale(1.015,1.055)" font-size="18" text-anchor="end">0</text>
<text transform="translate(80.55,110.08) scale(1.015,1.055)" font-size="18" text-anchor="end">20</text>
<text transform="translate(80.55,70.17) scale(1.015,1.055)" font-size="18" text-anchor="end">40</text>
<text transform="translate(80.55,30.25) scale(1.015,1.055)" font-size="18" text-anchor="end">60</text>
<text transform="translate(483,269.72) scale(1.015,1.055)" font-size="18" text-anchor="end">0<tspan dx="0.4">.</tspan><tspan dx="0.2">4</tspan></text>
<rect x="446" y="264.52" width="8.9" height="1.9" fill="#666666"/>
<text transform="translate(483,209.86) scale(1.015,1.055)" font-size="18" text-anchor="end">0<tspan dx="0.4">.</tspan><tspan dx="0.2">2</tspan></text>
<rect x="446" y="204.66" width="8.9" height="1.9" fill="#666666"/>
<text transform="translate(483,150) scale(1.015,1.055)" font-size="18" text-anchor="end">0<tspan dx="0.4">.</tspan><tspan dx="0.2">0</tspan></text>
<text transform="translate(483,90.14) scale(1.015,1.055)" font-size="18" text-anchor="end">0<tspan dx="0.4">.</tspan><tspan dx="0.2">2</tspan></text>
<text transform="translate(483,30.28) scale(1.015,1.055)" font-size="18" text-anchor="end">0<tspan dx="0.4">.</tspan><tspan dx="0.2">4</tspan></text>
<text transform="translate(91.45,285) scale(1.015,1.055)" font-size="18" text-anchor="middle">0</text>
<text transform="translate(492.9,285) scale(1.015,1.055)" font-size="18" text-anchor="middle">0</text>
<text transform="translate(129.78,285) scale(1.015,1.055)" font-size="18" text-anchor="middle">2</text>
<text transform="translate(531.17,285) scale(1.015,1.055)" font-size="18" text-anchor="middle">2</text>
<text transform="translate(168.12,285) scale(1.015,1.055)" font-size="18" text-anchor="middle">4</text>
<text transform="translate(569.44,285) scale(1.015,1.055)" font-size="18" text-anchor="middle">4</text>
<text transform="translate(206.45,285) scale(1.015,1.055)" font-size="18" text-anchor="middle">6</text>
<text transform="translate(607.71,285) scale(1.015,1.055)" font-size="18" text-anchor="middle">6</text>
<text transform="translate(244.79,285) scale(1.015,1.055)" font-size="18" text-anchor="middle">8</text>
<text transform="translate(645.98,285) scale(1.015,1.055)" font-size="18" text-anchor="middle">8</text>
<text transform="translate(283.12,285) scale(1.015,1.055)" font-size="18" text-anchor="middle">10</text>
<text transform="translate(684.25,285) scale(1.015,1.055)" font-size="18" text-anchor="middle">10</text>
<text transform="translate(321.45,285) scale(1.015,1.055)" font-size="18" text-anchor="middle">12</text>
<text transform="translate(722.52,285) scale(1.015,1.055)" font-size="18" text-anchor="middle">12</text>
<text transform="translate(359.79,285) scale(1.015,1.055)" font-size="18" text-anchor="middle">14</text>
<text transform="translate(760.79,285) scale(1.015,1.055)" font-size="18" text-anchor="middle">14</text>
<text x="2.2" y="147.9" font-size="18.1" style="font-style:italic;font-weight:normal" stroke="#666666" stroke-width="0.55">C</text>
<text transform="translate(14.7,152.0) scale(0.94,1)" font-size="14.2">P<tspan dx="0.3">,</tspan><tspan dx="0.5">Q</tspan></text>
<text x="425.7" y="149.7" font-size="17.8" style="font-style:italic;font-weight:normal" stroke="#666666" stroke-width="0.8">T</text>
<text x="227.8" y="316.1" font-size="18.2" style="font-style:italic;font-weight:normal" stroke="#666666" stroke-width="0.6" stroke-linejoin="round">r</text>
<path d="M234.9 316.1 h6.2 M238 313 v6.2" stroke="#666666" stroke-width="1.8" fill="none"/>
<text x="629.4" y="316.1" font-size="18.2" style="font-style:italic;font-weight:normal" stroke="#666666" stroke-width="0.6" stroke-linejoin="round">r</text>
<path d="M636.5 316.1 h6.2 M639.6 313 v6.2" stroke="#666666" stroke-width="1.8" fill="none"/>
</svg></body></html>
